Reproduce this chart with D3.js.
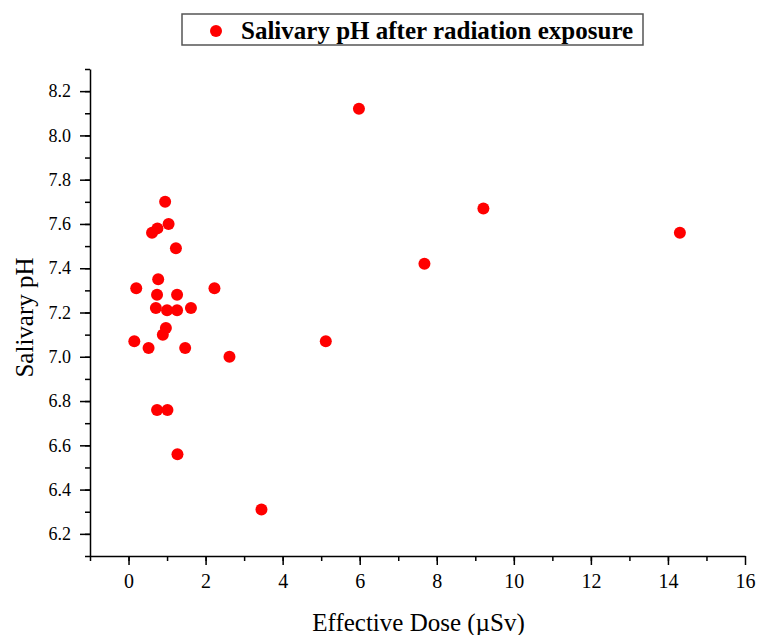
<!DOCTYPE html>
<html>
<head>
<meta charset="utf-8">
<script src="https://cdn.jsdelivr.net/npm/d3@7"></script>
<style>
  body { margin: 0; background: #fff; }
  svg { display: block; font-family: "Liberation Serif", "Times New Roman", serif; }
  .axis path, .axis line { stroke: #000; stroke-width: 1.5; }
</style>
</head>
<body>
<svg id="chart"></svg>
<script>
// effective dose (uSv) and salivary pH
const dose = [0.15, 0.2, 0.52, 0.61, 0.75, 0.77, 0.74, 0.71, 0.74, 0.95, 1.04, 0.97, 0.89, 1.0, 1.01,
  1.23, 1.26, 1.26, 1.27, 1.47, 1.62, 2.23, 2.62, 3.45, 5.12, 5.98, 7.68, 9.21, 14.31];
const ph = [7.07, 7.31, 7.04, 7.56, 7.58, 7.35, 7.28, 7.22, 6.76, 7.70, 7.60, 7.13, 7.10, 7.21, 6.76,
  7.49, 7.28, 7.21, 6.56, 7.04, 7.22, 7.31, 7.00, 6.31, 7.07, 8.12, 7.42, 7.67, 7.56];
const xTicks = [0, 2, 4, 6, 8, 10, 12, 14, 16];
const yTicks = [6.2, 6.4, 6.6, 6.8, 7.0, 7.2, 7.4, 7.6, 7.8, 8.0, 8.2];
const seriesName = "Salivary pH after radiation exposure";

const w = 757, h = 635;
const svg = d3.select("#chart").attr("width", w).attr("height", h);

const x = d3.scaleLinear().domain([-1, 16]).range([90, 745]);
const y = d3.scaleLinear().domain([6.1, 8.3]).range([556, 69]);

function styleAxis(size) {
  return g => {
    g.attr("font-family", null).attr("font-size", null);
    g.selectAll("text")
      .style("font-family", "'Liberation Serif', serif")
      .style("font-size", size + "px")
      .attr("fill", "#000");
  };
}

// minor ticks
svg.append("g")
  .attr("class", "axis")
  .attr("transform", "translate(0,556)")
  .call(d3.axisBottom(x).tickValues(d3.range(-1, 16, 1)).tickSize(5).tickFormat(""))
  .select(".domain").remove();
svg.append("g")
  .attr("class", "axis")
  .attr("transform", "translate(90,0)")
  .call(d3.axisLeft(y).tickValues(d3.range(61, 84, 1).map(v => v / 10)).tickSize(5).tickFormat(""))
  .select(".domain").remove();

// major ticks
svg.append("g")
  .attr("class", "axis")
  .attr("transform", "translate(0,556)")
  .call(d3.axisBottom(x).tickValues(xTicks).tickSizeInner(9).tickSizeOuter(0).tickPadding(9).tickFormat(d3.format("d")))
  .call(styleAxis(20));
svg.append("g")
  .attr("class", "axis")
  .attr("transform", "translate(90,0)")
  .call(d3.axisLeft(y).tickValues(yTicks).tickSizeInner(10).tickSizeOuter(0).tickPadding(9).tickFormat(d3.format(".1f")))
  .call(styleAxis(18));

// axis titles
svg.append("text")
  .attr("x", (x(-1) + x(16)) / 2 + 1)
  .attr("y", 631)
  .attr("text-anchor", "middle")
  .style("font-size", "25px")
  .text("Effective Dose (\u00B5Sv)");

svg.append("text")
  .attr("transform", "translate(33," + ((y(6.1) + y(8.3)) / 2 + 5) + ") rotate(-90)")
  .attr("text-anchor", "middle")
  .style("font-size", "25px")
  .text("Salivary pH");

// points
const pts = dose.map((d, i) => ({ x: d, y: ph[i] }));
svg.selectAll(".dot")
  .data(pts)
  .enter().append("circle")
  .attr("class", "dot")
  .attr("cx", d => x(d.x))
  .attr("cy", d => y(d.y))
  .attr("r", 6)
  .attr("fill", "#f00");

// legend
const legend = svg.append("g");
legend.append("rect")
  .attr("x", 182).attr("y", 14)
  .attr("width", 461).attr("height", 31)
  .attr("fill", "#fff")
  .attr("stroke", "#555")
  .attr("stroke-width", 1.5);
legend.append("circle")
  .attr("cx", 216).attr("cy", 31).attr("r", 6)
  .attr("fill", "#f00");
legend.append("text")
  .attr("x", 241).attr("y", 39)
  .style("font-size", "25px")
  .style("font-weight", "bold")
  .text(seriesName);
</script>
</body>
</html>
